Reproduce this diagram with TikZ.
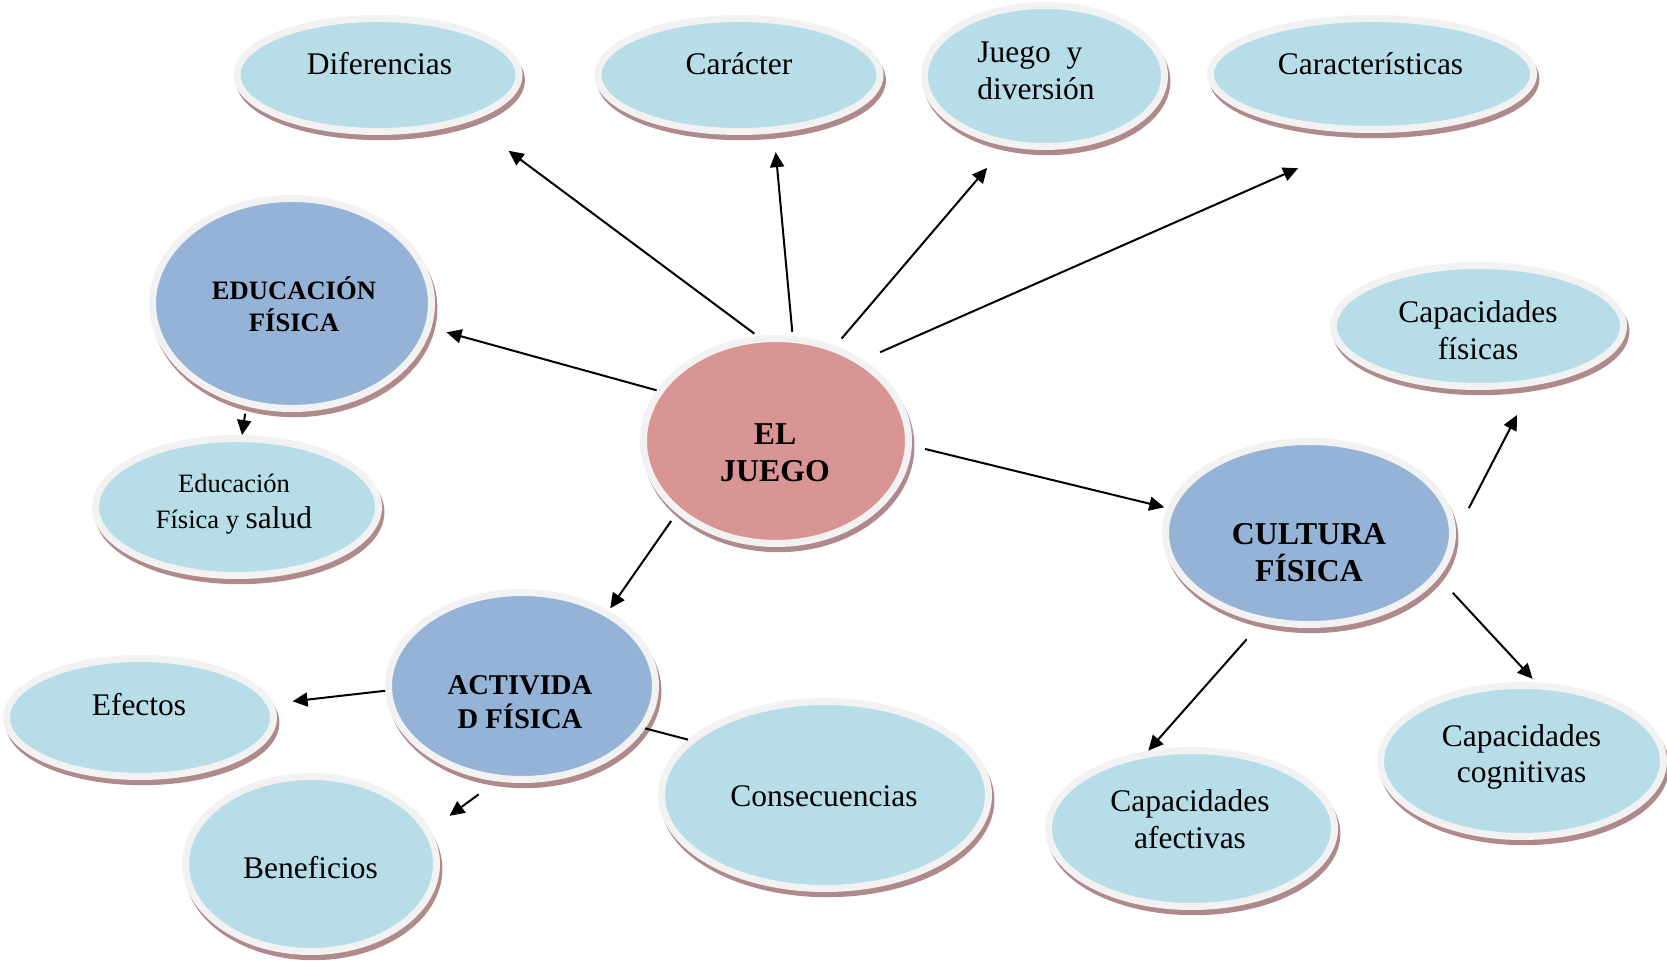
\documentclass[tikz,border=0pt]{standalone}
\usepackage{fontspec}
\setmainfont{Liberation Serif}
\usetikzlibrary{arrows.meta,shapes.geometric}

\definecolor{aqua}{HTML}{B7DDE8}
\definecolor{steel}{HTML}{95B3D7}
\definecolor{rosefill}{HTML}{D99594}
\definecolor{rim}{HTML}{F2F2F2}
\definecolor{shade}{HTML}{B08A8A}

\tikzset{
  bubble/.style={ellipse, draw=rim, line width=3.5pt, inner sep=0pt,
    preaction={draw=shade, fill=shade, line width=3.5pt,
      transform canvas={xshift=1.2pt, yshift=-2.6pt}}},
  leaf/.style={bubble, fill=aqua},
  hub/.style={bubble, fill=steel},
  core/.style={bubble, fill=rosefill},
  lbl/.style={anchor=base, inner sep=0pt, font=\fontsize{15.75}{18}\selectfont},
  small/.style={anchor=base, inner sep=0pt, font=\fontsize{13.25}{16}\selectfont},
  blbl/.style={anchor=base, inner sep=0pt, font=\fontsize{15.9}{18}\selectfont\bfseries},
  arr/.style={line width=1pt, -{Triangle[length=7.5pt,width=7pt]}},
  link/.style={line width=1pt},
}

\begin{document}
\begin{tikzpicture}[x=0.5pt, y=-0.5pt]
\useasboundingbox (0,0) rectangle (1667,962);

% ---- ellipses ----
\node[leaf, minimum width=141pt,   minimum height=56.5pt] (dif)   at (378,75) {};
\node[leaf, minimum width=141pt,   minimum height=56.5pt] (car)   at (739,75) {};
\node[leaf, minimum width=120pt,   minimum height=70.5pt] (jyd)   at (1044.5,76) {};
\node[leaf, minimum width=161.5pt, minimum height=55.5pt] (cars)  at (1372,74) {};
\node[hub,  minimum width=139.5pt, minimum height=105pt]  (edu)   at (292,303.5) {};
\node[leaf, minimum width=141.5pt, minimum height=68.5pt] (efs)   at (237,507) {};
\node[core, minimum width=132.5pt, minimum height=102.5pt] (juego) at (776,441) {};
\node[leaf, minimum width=145pt,   minimum height=60.5pt] (cfis)  at (1478.5,326) {};
\node[hub,  minimum width=143.5pt, minimum height=91.5pt] (cult)  at (1309,533) {};
\node[hub,  minimum width=133.5pt, minimum height=93.5pt] (act)   at (522,686) {};
\node[leaf, minimum width=133.5pt, minimum height=59pt]   (efe)   at (140,717.5) {};
\node[leaf, minimum width=125.5pt, minimum height=87.5pt] (ben)   at (311,864) {};
\node[leaf, minimum width=163.5pt, minimum height=93.5pt] (cons)  at (825,795) {};
\node[leaf, minimum width=143pt,   minimum height=78pt]   (cafe)  at (1191.5,828.5) {};
\node[leaf, minimum width=141.5pt, minimum height=75.5pt] (ccog)  at (1522,761) {};

% ---- texts ----
\node[lbl] (difT) at (379.5,75) {Diferencias};
\node[lbl] (carT) at (739,75) {Carácter};
\node[lbl, anchor=base west] (jydT1) at (977,63) {Juego\ \ y};
\node[lbl, anchor=base west] (jydT2) at (977,100) {diversión};
\node[lbl] (carsT) at (1370.5,75) {Características};
\node[blbl, font=\fontsize{13.3}{16}\selectfont\bfseries] (eduT1) at (294,300) {EDUCACIÓN};
\node[blbl, font=\fontsize{13.3}{16}\selectfont\bfseries] (eduT2) at (294,332) {FÍSICA};
\node[small] (efsT1) at (234,493) {Educación};
\node[small] (efsT2) at (234,529) {Física y {\fontsize{15.75}{18}\selectfont salud}};
\node[blbl] (juegoT1) at (775,445) {EL};
\node[blbl] (juegoT2) at (775,482) {JUEGO};
\node[lbl] (cfisT1) at (1478,323) {Capacidades};
\node[lbl] (cfisT2) at (1478,360) {físicas};
\node[blbl] (cultT1) at (1309,545) {CULTURA};
\node[blbl] (cultT2) at (1309,582) {FÍSICA};
\node[blbl, font=\fontsize{14.3}{17}\selectfont\bfseries] (actT1) at (520,695) {ACTIVIDA};
\node[blbl, font=\fontsize{14.3}{17}\selectfont\bfseries] (actT2) at (520,728) {D FÍSICA};
\node[lbl] (efeT) at (139,716) {Efectos};
\node[lbl] (benT) at (310.5,878) {Beneficios};
\node[lbl] (consT) at (824,806) {Consecuencias};
\node[lbl] (cafeT1) at (1190,811) {Capacidades};
\node[lbl] (cafeT2) at (1190,848) {afectivas};
\node[lbl] (ccogT1) at (1521.5,747) {Capacidades};
\node[lbl] (ccogT2) at (1521.5,783) {cognitivas};

% ---- connectors ----
\draw[arr, shorten <=2pt,    shorten >=24.5pt]  (juego.100)   -- (dif.-27.5);
\draw[arr, shorten <=2pt,    shorten >=9.5pt]   (juego.81.6)  -- (car.-59.5);
\draw[arr, shorten <=4.7pt,  shorten >=14.2pt]  (juego.58.9)  -- (jyd.-119.7);
\draw[arr, shorten <=9.25pt, shorten >=43.75pt] (juego.43.1)  -- (cars.-84.1);
\draw[arr, shorten >=7.9pt]                     (juego.157.9) -- (edu.-10.4);
\draw[arr, shorten <=3.75pt]                    (edu.-114.7)  -- (efs.86.7);
\draw[arr, shorten <=4.65pt, shorten >=1.5pt]   (juego.-144.7) -- (act.41.2);
\draw[arr, shorten <=6.8pt,  shorten >=1.5pt]   (juego.-2.9)  -- (cult.170.3);
\draw[arr, shorten <=14pt,   shorten >=16.5pt]  (cult.0)      -- (cfis.-48.1);
\draw[arr, shorten <=10.35pt, shorten >=2.4pt]  (cult.-19.7)  -- (ccog.80);
\draw[arr, shorten <=11pt]                      (cult.-118.1) -- (cafe.119.4);
\draw[arr, shorten >=9.6pt]                     (act.-178.7)  -- (efe.6.6);
\draw[arr, shorten <=11pt,   shorten >=11.75pt] (act.-105.3)  -- (ben.16.5);
\draw[link]                                     (act.-19.3)   -- (cons.158.5);
\end{tikzpicture}
\end{document}
